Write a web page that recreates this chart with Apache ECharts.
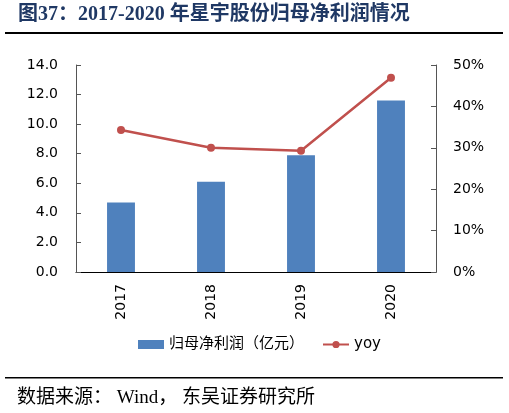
<!DOCTYPE html>
<html>
<head>
<meta charset="utf-8">
<script src="https://cdn.jsdelivr.net/npm/echarts@6/dist/echarts.min.js"></script>
<style>
  html, body { margin: 0; padding: 0; background: #fff; }
  #main { width: 509px; height: 413px; }
</style>
</head>
<body>
<div id="main"></div>
<script>
  // 数据
  const years = ['2017', '2018', '2019', '2020']
  const netProfit = [4.7, 6.1, 7.9, 11.6] // 归母净利润（亿元）
  const yoy = [34.3, 30.0, 29.3, 46.9] // 同比 %
  const leftTicks = [0, 14, 2] // min, max, interval
  const rightTicks = [0, 50, 10]

  const chart = echarts.init(document.getElementById('main'))
  const sans = 'DejaVu Sans, Noto Sans CJK SC, sans-serif'
  const serif = 'Liberation Serif, Noto Sans CJK SC, serif'

  chart.setOption({
    animation: false,
    backgroundColor: '#fff',
    grid: { left: 76, right: 73, top: 65, bottom: 141 },
    // 标题、分隔线、来源
    graphic: [
      {
        type: 'text', left: 18, top: 5,
        style: { text: '图37：2017-2020 年星宇股份归母净利润情况', fill: '#1F3864', font: 'bold 20px ' + serif },
      },
      { type: 'rect', shape: { x: 5, y: 32, width: 498, height: 2 }, style: { fill: '#000' } },
      { type: 'rect', shape: { x: 5, y: 377, width: 498, height: 1.5 }, style: { fill: '#000' } },
      {
        type: 'text', left: 17, top: 389,
        style: { text: '数据来源： Wind， 东吴证券研究所', fill: '#000', font: '19px ' + serif },
      },
    ],
    legend: {
      bottom: 56, left: 133, itemGap: 18, itemWidth: 26, itemHeight: 9,
      textStyle: { fontSize: 15, fontFamily: sans, color: '#000' },
      data: [
        { name: '归母净利润（亿元）', icon: 'rect' },
        { name: 'yoy' },
      ],
    },
    xAxis: {
      type: 'category', data: years,
      axisLine: { lineStyle: { color: '#000', width: 1 } },
      axisTick: { inside: true, length: 5, lineStyle: { color: '#555' } },
      axisLabel: { rotate: 90, fontSize: 14, fontFamily: sans, color: '#000', margin: 12 },
    },
    yAxis: [
      {
        type: 'value', min: leftTicks[0], max: leftTicks[1], interval: leftTicks[2],
        splitLine: { show: false },
        axisLine: { show: true, lineStyle: { color: '#555' } },
        axisTick: { show: true, inside: true, length: 5, lineStyle: { color: '#555' } },
        axisLabel: { formatter: (v) => v.toFixed(1), fontSize: 14, fontFamily: sans, color: '#000', margin: 18 },
      },
      {
        type: 'value', min: rightTicks[0], max: rightTicks[1], interval: rightTicks[2],
        splitLine: { show: false },
        axisLine: { show: true, lineStyle: { color: '#555' } },
        axisTick: { show: true, inside: true, length: 5, lineStyle: { color: '#555' } },
        axisLabel: { formatter: '{value}%', fontSize: 14, fontFamily: sans, color: '#000', margin: 17 },
      },
    ],
    series: [
      {
        name: '归母净利润（亿元）', type: 'bar', data: netProfit, barWidth: '31%',
        itemStyle: { color: '#4F81BD' },
      },
      {
        name: 'yoy', type: 'line', yAxisIndex: 1, data: yoy,
        symbol: 'circle', symbolSize: 8,
        lineStyle: { color: '#C0504D', width: 2.5 },
        itemStyle: { color: '#C0504D' },
      },
    ],
  })
</script>
</body>
</html>
